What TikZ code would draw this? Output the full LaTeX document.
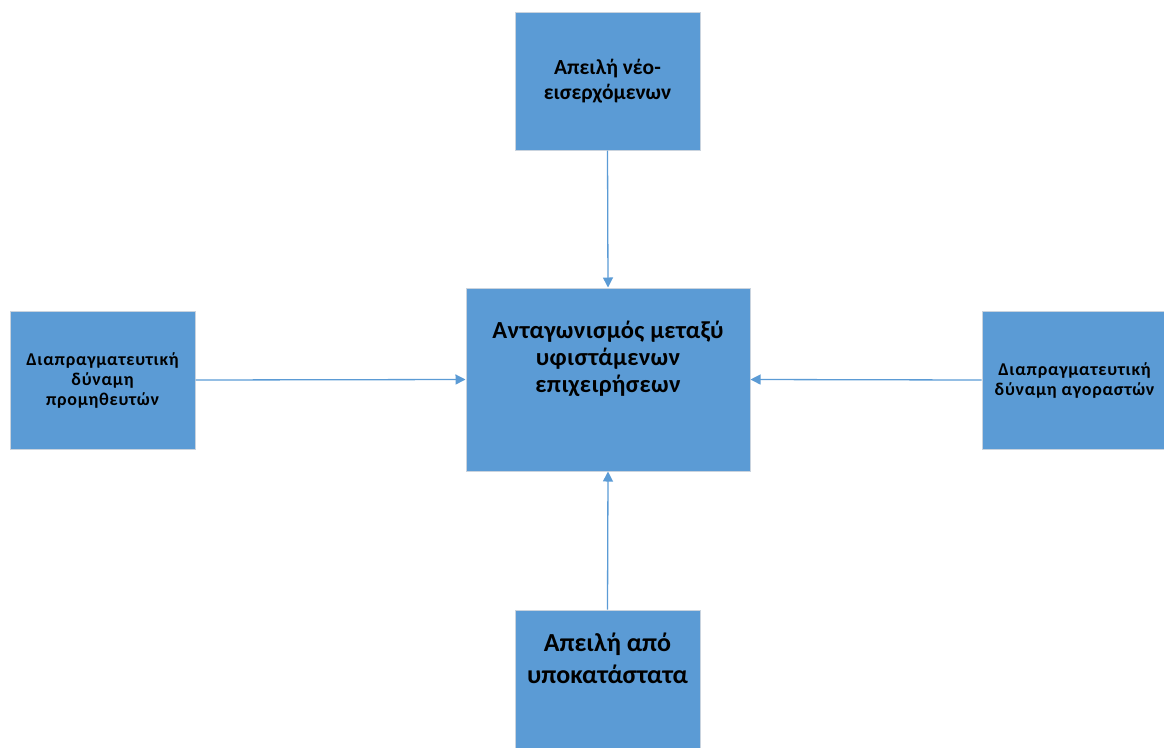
\documentclass[tikz,border=0pt]{standalone}
\usepackage{fontspec}
\setmainfont{Carlito}
\newfontfamily\widefont[LetterSpace=4]{Carlito}
\newfontfamily\midfont[LetterSpace=1.5]{Carlito}
\usetikzlibrary{positioning,arrows.meta}

\definecolor{boxblue}{HTML}{5B9BD5}
\definecolor{boxline}{HTML}{C9D3DE}

\tikzset{
  force/.style={draw=boxline,line width=1pt,fill=boxblue,
    minimum width=185pt,minimum height=138pt,inner sep=0pt},
  lbl/.style={align=center,font=\bfseries,inner sep=0pt},
  push/.style={draw=boxblue,line width=1.3pt,-{Triangle[length=10pt,width=10pt]}}
}

\begin{document}
\begin{tikzpicture}[x=1pt,y=-1pt]
  \useasboundingbox (0,0) rectangle (1164,747);
  % the five forces
  \node[force,minimum width=284pt,minimum height=183pt] (rivals) at (608,379.5) {};
  \node[force] (newcomers) at (607.5,81) {};
  \node[force] (substitutes) at (607.5,679) {};
  \node[force] (suppliers) at (102.5,380) {};
  \node[force] (buyers) at (1074.5,380) {};

  \node[lbl,font=\midfont\fontsize{24.5}{27}\selectfont\bfseries,below=33pt of rivals.north] (rivalsT)
    {Ανταγωνισμός μεταξύ\\υφιστάμενων\\επιχειρήσεων};
  \node[lbl,font=\fontsize{21.5}{25}\selectfont\bfseries] (newcomersT) at (newcomers)
    {Απειλή νέο-\\εισερχόμενων};
  \node[lbl,font=\fontsize{26}{32}\selectfont\bfseries,below=23pt of substitutes.north] (substitutesT)
    {Απειλή από\\υποκατάστατα};
  \node[lbl,font=\widefont\fontsize{18}{20}\selectfont\bfseries] (suppliersT) at (suppliers)
    {Διαπραγματευτική\\δύναμη\\προμηθευτών};
  \node[lbl,font=\widefont\fontsize{18}{20}\selectfont\bfseries] (buyersT) at (buyers)
    {Διαπραγματευτική\\δύναμη αγοραστών};

  % arrows into the centre
  \draw[push] (newcomers.south) -- (rivals.north);
  \draw[push] (substitutes.north) -- (rivals.south);
  \draw[push] (suppliers.east) -- (rivals.west);
  \draw[push] (buyers.west) -- (rivals.east);
\end{tikzpicture}
\end{document}
